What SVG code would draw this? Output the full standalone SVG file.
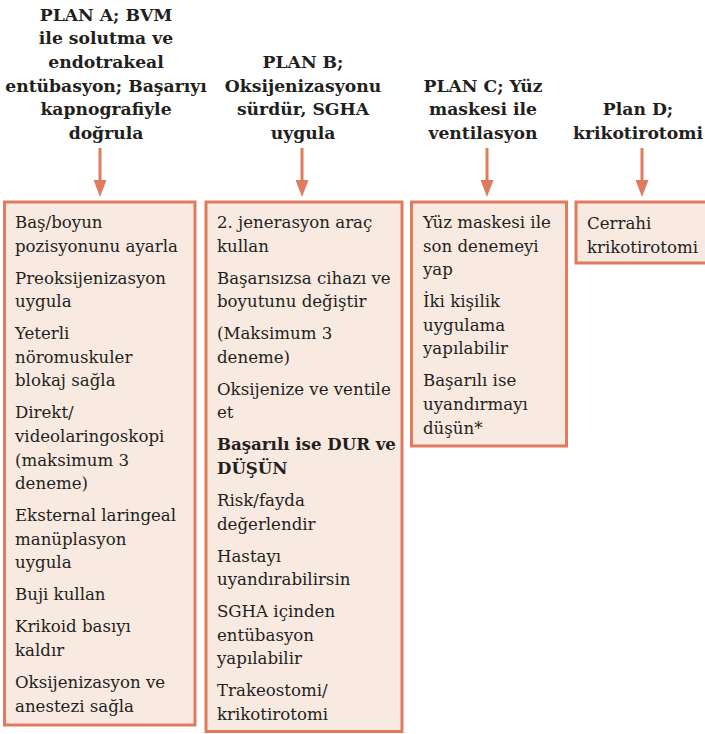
<svg xmlns="http://www.w3.org/2000/svg" width="705" height="734" viewBox="0 0 705 734">
<defs>
<style>
.hd{font-family:"DejaVu Serif","Liberation Serif",serif;font-weight:bold;font-size:17.2px;fill:#231f20;text-anchor:middle}
.tx{font-family:"DejaVu Serif","Liberation Serif",serif;font-size:16.6px;fill:#231f20}
.b{font-weight:bold}
.box{fill:#F8E9E1;stroke:#E07B5F;stroke-width:3}
.arr{stroke:#E07B5F;stroke-width:3;fill:none;marker-end:url(#ah)}
</style>
<marker id="ah" markerUnits="userSpaceOnUse" markerWidth="17" markerHeight="13" refX="10" refY="6.5" orient="auto">
<path d="M0,0 L17,6.5 L0,13 z" fill="#E07B5F"/>
</marker>
</defs>
<rect width="705" height="734" fill="#ffffff"/>

<g id="header-a">
<text class="hd" x="106" y="20.7">PLAN A; BVM</text>
<text class="hd" x="106" y="44.3">ile solutma ve</text>
<text class="hd" x="106" y="67.9">endotrakeal</text>
<text class="hd" x="106" y="91.5">entübasyon; Başarıyı</text>
<text class="hd" x="106" y="115.1">kapnografiyle</text>
<text class="hd" x="106" y="138.7">doğrula</text>
</g>
<g id="header-b">
<text class="hd" x="303" y="67.9">PLAN B;</text>
<text class="hd" x="303" y="91.5">Oksijenizasyonu</text>
<text class="hd" x="303" y="115.1">sürdür, SGHA</text>
<text class="hd" x="303" y="138.7">uygula</text>
</g>
<g id="header-c">
<text class="hd" x="483" y="91.5">PLAN C; Yüz</text>
<text class="hd" x="483" y="115.1">maskesi ile</text>
<text class="hd" x="483" y="138.7">ventilasyon</text>
</g>
<g id="header-d">
<text class="hd" x="638" y="115.1">Plan D;</text>
<text class="hd" x="638" y="138.7">krikotirotomi</text>
</g>

<g id="connectors">
<line class="arr" x1="100" y1="148" x2="100" y2="190"/>
<line class="arr" x1="302" y1="148" x2="302" y2="190"/>
<line class="arr" x1="487" y1="148" x2="487" y2="190"/>
<line class="arr" x1="642" y1="148" x2="642" y2="190"/>
</g>

<g id="box-a">
<rect class="box" x="4.5" y="202" width="190.5" height="523"/>
<text class="tx" x="15" y="228">Baş/boyun</text>
<text class="tx" x="15" y="251.6">pozisyonunu ayarla</text>
<text class="tx" x="15" y="283.6">Preoksijenizasyon</text>
<text class="tx" x="15" y="307.2">uygula</text>
<text class="tx" x="15" y="339.2">Yeterli</text>
<text class="tx" x="15" y="362.8">nöromuskuler</text>
<text class="tx" x="15" y="386.4">blokaj sağla</text>
<text class="tx" x="15" y="418.4">Direkt/</text>
<text class="tx" x="15" y="442">videolaringoskopi</text>
<text class="tx" x="15" y="465.6">(maksimum 3</text>
<text class="tx" x="15" y="489.2">deneme)</text>
<text class="tx" x="15" y="521.2">Eksternal laringeal</text>
<text class="tx" x="15" y="544.8">manüplasyon</text>
<text class="tx" x="15" y="568.4">uygula</text>
<text class="tx" x="15" y="600.4">Buji kullan</text>
<text class="tx" x="15" y="632.4">Krikoid basıyı</text>
<text class="tx" x="15" y="656">kaldır</text>
<text class="tx" x="15" y="688">Oksijenizasyon ve</text>
<text class="tx" x="15" y="711.6">anestezi sağla</text>
</g>

<g id="box-b">
<rect class="box" x="206" y="202" width="196" height="529.5"/>
<text class="tx" x="217" y="228">2. jenerasyon araç</text>
<text class="tx" x="217" y="251.6">kullan</text>
<text class="tx" x="217" y="283.6">Başarısızsa cihazı ve</text>
<text class="tx" x="217" y="307.2">boyutunu değiştir</text>
<text class="tx" x="217" y="339.2">(Maksimum 3</text>
<text class="tx" x="217" y="362.8">deneme)</text>
<text class="tx" x="217" y="394.8">Oksijenize ve ventile</text>
<text class="tx" x="217" y="418.4">et</text>
<text class="tx b" x="217" y="450.4">Başarılı ise DUR ve</text>
<text class="tx b" x="217" y="474">DÜŞÜN</text>
<text class="tx" x="217" y="506">Risk/fayda</text>
<text class="tx" x="217" y="529.6">değerlendir</text>
<text class="tx" x="217" y="561.6">Hastayı</text>
<text class="tx" x="217" y="585.2">uyandırabilirsin</text>
<text class="tx" x="217" y="617.2">SGHA içinden</text>
<text class="tx" x="217" y="640.8">entübasyon</text>
<text class="tx" x="217" y="664.4">yapılabilir</text>
<text class="tx" x="217" y="696.4">Trakeostomi/</text>
<text class="tx" x="217" y="720">krikotirotomi</text>
</g>

<g id="box-c">
<rect class="box" x="411.5" y="202" width="155" height="244"/>
<text class="tx" x="423" y="228">Yüz maskesi ile</text>
<text class="tx" x="423" y="251.6">son denemeyi</text>
<text class="tx" x="423" y="275.2">yap</text>
<text class="tx" x="423" y="307.2">İki kişilik</text>
<text class="tx" x="423" y="330.8">uygulama</text>
<text class="tx" x="423" y="354.4">yapılabilir</text>
<text class="tx" x="423" y="386.4">Başarılı ise</text>
<text class="tx" x="423" y="410">uyandırmayı</text>
<text class="tx" x="423" y="433.6">düşün*</text>
</g>

<g id="box-d">
<rect class="box" x="576" y="202" width="140" height="61"/>
<text class="tx" x="587" y="229">Cerrahi</text>
<text class="tx" x="587" y="252.6">krikotirotomi</text>
</g>
</svg>
